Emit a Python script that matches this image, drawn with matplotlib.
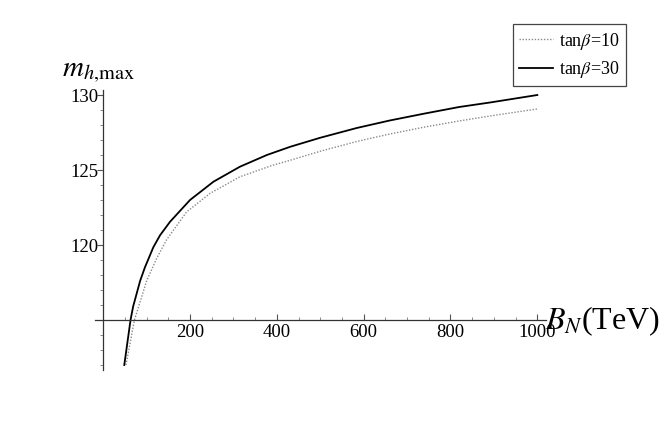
import numpy as np
import matplotlib
matplotlib.use("Agg")
import matplotlib.pyplot as plt
from matplotlib.ticker import MultipleLocator

plt.rcParams["font.family"] = ["Liberation Serif", "DejaVu Serif"]
plt.rcParams["mathtext.fontset"] = "stix"

# m_h,max vs B_N
bn_30 = [48.6, 63, 69, 85, 96, 115.5, 131, 154, 200, 254, 315, 377, 431, 500, 584, 660,
         738, 820, 891, 1000]
mh_30 = [112.0, 115.0, 115.9, 117.6, 118.5, 119.85, 120.65, 121.55, 123.0, 124.22, 125.22,
         126.0, 126.55, 127.15, 127.8, 128.3, 128.75, 129.2, 129.5, 130.0]
bn_10 = [52.5, 72, 100, 123, 146, 192, 246, 315, 392, 431, 500, 584, 660, 738, 820, 891, 1000]
mh_10 = [112.0, 115.0, 117.6, 119.1, 120.35, 122.2, 123.44, 124.55, 125.33, 125.65,
         126.25, 126.9, 127.4, 127.85, 128.27, 128.6, 129.07]

xticks = [200, 400, 600, 800, 1000]
yticks = [120, 125, 130]

W, H = 664, 436
fig = plt.figure(figsize=(W / 100, H / 100), dpi=100)
ax = fig.add_axes([94.5 / W, 1 - 370.4 / H, (546 - 94.5) / W, (370.4 - 89.6) / H])
ax.set_xlim(-20, 1020)
ax.set_ylim(111.64, 130.36)

ax.plot(bn_10, mh_10, ls=(0, (1, 1.2)), color="#8a8a8a", lw=1.0, label=r"tan$\beta$=10")
ax.plot(bn_30, mh_30, "-", color="black", lw=1.3, label=r"tan$\beta$=30")

for s in ("top", "right"):
    ax.spines[s].set_visible(False)
ax.spines["left"].set_position(("data", 0))
ax.spines["bottom"].set_position(("data", 115))
for s in ("left", "bottom"):
    ax.spines[s].set_color("#333333")
    ax.spines[s].set_linewidth(0.9)

ax.set_xticks(xticks)
ax.set_yticks(yticks)
ax.xaxis.set_minor_locator(MultipleLocator(50))
ax.yaxis.set_minor_locator(MultipleLocator(1))
ax.tick_params(axis="x", which="major", direction="in", length=4, width=0.8,
               color="#555555", labelsize=13.5, pad=3)
ax.tick_params(axis="x", which="minor", direction="in", length=2, width=0.6, color="#777777")
ax.tick_params(axis="y", which="major", direction="out", length=4, width=0.8,
               color="#555555", labelsize=13.5, pad=-1)
ax.tick_params(axis="y", which="minor", direction="out", length=2.5, width=0.6, color="#777777")

fig.text(62 / W, 1 - 76 / H, r"$m_{h{,}\mathrm{max}}$", fontsize=21, ha="left", va="baseline")
fig.text(545 / W, 1 - 329 / H, r"$B_N$(TeV)", fontsize=23, ha="left", va="baseline")

leg = ax.legend(loc="upper left", bbox_to_anchor=(512.7 / W, 1 - 24.3 / H),
                bbox_transform=fig.transFigure, borderaxespad=0, fontsize=13,
                handlelength=1.9, handletextpad=0.3, labelspacing=0.4,
                borderpad=0.35, fancybox=False, framealpha=1)
leg.get_frame().set_edgecolor("#444444")
leg.get_frame().set_linewidth(0.9)

fig.savefig("out.png", dpi=100)
